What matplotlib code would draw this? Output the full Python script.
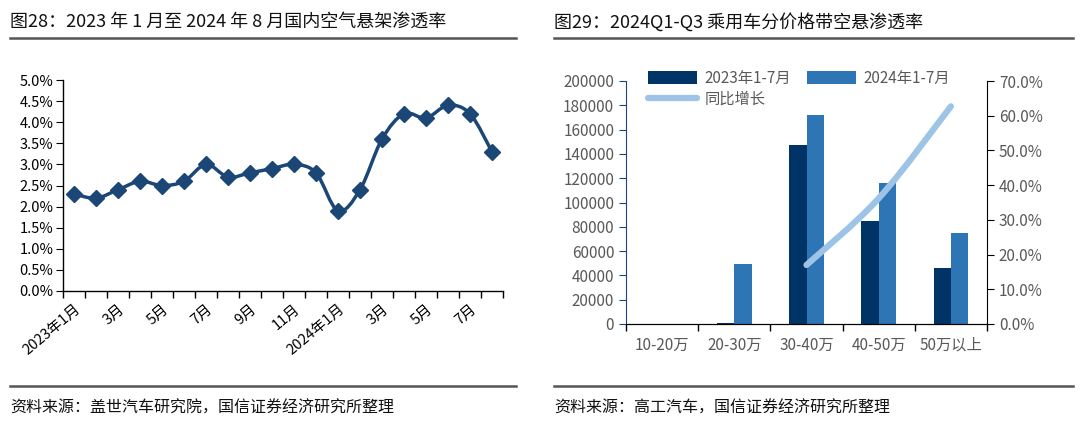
import numpy as np
import matplotlib
matplotlib.use('Agg')
import matplotlib.pyplot as plt
from matplotlib.path import Path
from matplotlib.patches import PathPatch
from matplotlib.ticker import FuncFormatter, FixedLocator

plt.rcParams['font.family'] = ['Noto Sans CJK SC', 'DejaVu Sans']

#%% 图28 data
month_labels = ['2023年1月', '', '3月', '', '5月', '', '7月', '', '9月', '', '11月', '',
                '2024年1月', '', '3月', '', '5月', '', '7月', '']
air_susp_rate = [2.3, 2.2, 2.4, 2.6, 2.5, 2.6, 3.0, 2.7, 2.8, 2.9, 3.0, 2.8,
                 1.9, 2.4, 3.6, 4.2, 4.1, 4.4, 4.2, 3.3]

#%% 图29 data
price_bands = ['10-20万', '20-30万', '30-40万', '40-50万', '50万以上']
sales_2023 = [0, 600, 147000, 85000, 45700]
sales_2024 = [0, 49500, 172000, 115700, 74700]
yoy_growth = [np.nan, np.nan, 17.0, 36.2, 62.7]

DARK = '#1b4776'
NAVY = '#003366'
MID = '#2e75b6'
LIGHT = '#9dc3e6'
GREY = '#595959'


def smooth_path(xs, ys):
    # catmull-rom style bezier, like excel "smoothed line"
    pts = np.column_stack([xs, ys])
    verts = [pts[0]]
    codes = [Path.MOVETO]
    n = len(pts)
    for i in range(n - 1):
        p0 = pts[max(i - 1, 0)]
        p1 = pts[i]
        p2 = pts[i + 1]
        p3 = pts[min(i + 2, n - 1)]
        verts += [p1 + (p2 - p0) / 6, p2 - (p3 - p1) / 6, p2]
        codes += [Path.CURVE4] * 3
    return Path(verts, codes)


fig = plt.figure(figsize=(10.8, 4.3), dpi=100)

# titles, rules, sources
fig.text(10 / 1080, 1 - 22 / 430, '图28：2023 年 1 月至 2024 年 8 月国内空气悬架渗透率',
         fontsize=13, va='center', ha='left', color='#111111')
fig.text(554 / 1080, 1 - 22 / 430, '图29：2024Q1-Q3 乘用车分价格带空悬渗透率',
         fontsize=13, va='center', ha='left', color='#111111')
for x0, x1 in [(10, 516), (554, 1073)]:
    for yy in [38, 386]:
        fig.add_artist(plt.Line2D([x0 / 1080, x1 / 1080], [1 - yy / 430] * 2,
                                  color='#555555', lw=1.8))
fig.text(10 / 1080, 1 - 408 / 430, '资料来源：盖世汽车研究院，国信证券经济研究所整理',
         fontsize=11.5, va='center', ha='left', color='#111111')
fig.text(554 / 1080, 1 - 408 / 430, '资料来源：高工汽车，国信证券经济研究所整理',
         fontsize=11.5, va='center', ha='left', color='#111111')

#%% left chart
ax1 = fig.add_axes([63 / 1080, 1 - 291 / 430, (503 - 63) / 1080, (291 - 80) / 430])
x = np.arange(len(air_susp_rate))
ax1.add_patch(PathPatch(smooth_path(x, np.array(air_susp_rate)), fill=False,
                        edgecolor=DARK, lw=2.5, capstyle='round', joinstyle='round'))
ax1.plot(x, air_susp_rate, linestyle='none', marker='D', markersize=8, color=DARK)
ax1.set_xlim(-0.5, len(air_susp_rate) - 0.5)
ax1.set_ylim(0, 5.0)
ax1.set_yticks(np.arange(0, 5.01, 0.5))
ax1.yaxis.set_major_formatter(FuncFormatter(lambda v, p: '%.1f%%' % v))
ax1.set_xticks(x)
ax1.set_xticklabels(month_labels, rotation=40, ha='right', rotation_mode='anchor')
ax1.xaxis.set_minor_locator(FixedLocator(np.arange(-0.5, len(air_susp_rate), 1)))
ax1.tick_params(axis='x', which='major', length=0, pad=8, labelsize=10.5)
ax1.tick_params(axis='x', which='minor', length=5, width=1)
ax1.tick_params(axis='y', length=5, labelsize=10.5, pad=2)
for s in ['top', 'right']:
    ax1.spines[s].set_visible(False)
for s in ['left', 'bottom']:
    ax1.spines[s].set_linewidth(1)

#%% right chart
ax2 = fig.add_axes([626 / 1080, 1 - 324 / 430, (987 - 626) / 1080, (324 - 81) / 430])
xb = np.arange(len(price_bands))
w = 0.24
b1 = ax2.bar(xb - w / 2, sales_2023, width=w, color=NAVY, zorder=2)
b2 = ax2.bar(xb + w / 2, sales_2024, width=w, color=MID, zorder=2)
ax2.set_xlim(-0.5, len(price_bands) - 0.5)
ax2.set_ylim(0, 200000)
ax2.set_yticks(np.arange(0, 200001, 20000))
ax2.set_xticks(xb)
ax2.set_xticklabels(price_bands)
ax2.xaxis.set_minor_locator(FixedLocator(np.arange(-0.5, len(price_bands), 1)))
ax2.tick_params(axis='x', which='major', length=0, pad=9, labelsize=11, labelcolor=GREY)
ax2.tick_params(axis='x', which='minor', length=5, width=1)
ax2.tick_params(axis='y', length=5, labelsize=11, labelcolor=GREY, color=DARK)
ax2.spines['top'].set_visible(False)
ax2.spines['right'].set_visible(False)
ax2.spines['left'].set_color(DARK)

ax3 = ax2.twinx()
ax3.set_ylim(0, 70)
ax3.set_yticks(np.arange(0, 70.1, 10))
ax3.yaxis.set_major_formatter(FuncFormatter(lambda v, p: '%.1f%%' % v))
ax3.tick_params(axis='y', length=5, labelsize=11, labelcolor=GREY)
ax3.spines['top'].set_visible(False)
ax3.spines['left'].set_visible(False)
g = np.array(yoy_growth)
ok = ~np.isnan(g)
ax3.add_patch(PathPatch(smooth_path(xb[ok].astype(float), g[ok]), fill=False,
                        edgecolor=LIGHT, lw=4.5, capstyle='round'))
line_proxy = plt.Line2D([], [], color=LIGHT, lw=4.5, solid_capstyle='round')

# column-major fill: col1 = 2023, 同比增长 ; col2 = 2024
leg = ax3.legend([b1, line_proxy, b2], ['2023年1-7月', '同比增长', '2024年1-7月'],
                 loc='upper left', ncol=2, frameon=False, fontsize=11,
                 bbox_to_anchor=(0.045, 1.07),
                 handlelength=3.2, handleheight=0.9, columnspacing=1.0,
                 labelspacing=0.25, handletextpad=0.5, borderaxespad=0)
for t in leg.get_texts():
    t.set_color(GREY)

fig.savefig('out.png', dpi=100)
